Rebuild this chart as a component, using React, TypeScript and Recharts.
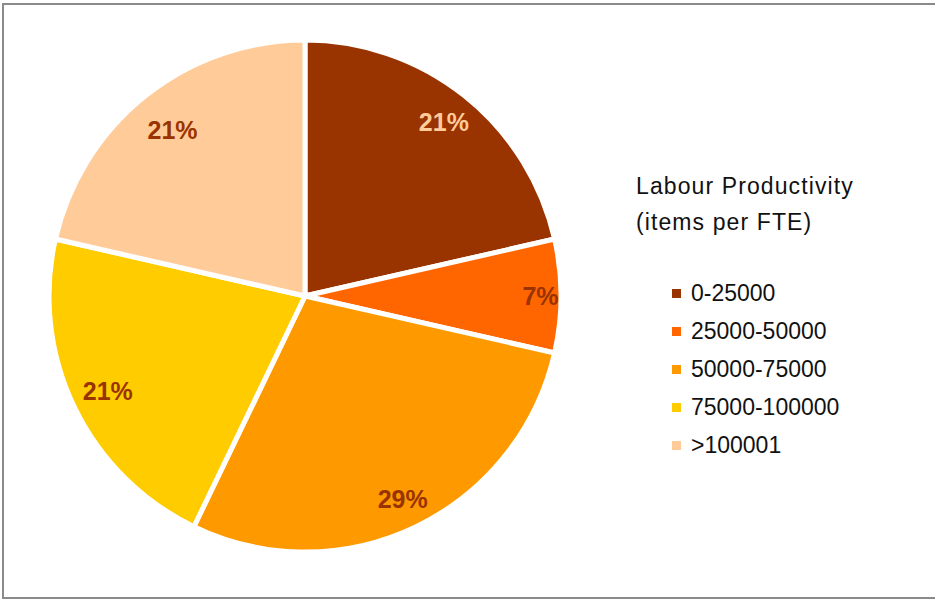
import { PieChart, Pie, Cell } from "recharts";

const categories = ["0-25000", "25000-50000", "50000-75000", "75000-100000", ">100001"];
const counts = [3, 1, 4, 3, 3];
const colors = ["#993300", "#FF6600", "#FF9900", "#FFCC00", "#FFCC99"];
const labelColors = ["#FFCC99", "#993300", "#993300", "#993300", "#993300"];
const legendTitle = ["Labour Productivity", "(items per FTE)"];

const data = categories.map((name, i) => ({ name, value: counts[i] }));
const total = counts.reduce((a, b) => a + b, 0);

const RAD = Math.PI / 180;
const font = "Liberation Sans, Arial, sans-serif";
// how far out each percentage sits, as a share of the radius
const labelRadius = [0.87, 0.92, 0.88, 0.855, 0.83];

const renderLabel = (props: any) => {
  const { cx, cy, midAngle, outerRadius, index, value } = props;
  const r = outerRadius * labelRadius[index];
  const x = cx + r * Math.cos(-midAngle * RAD);
  const y = cy + r * Math.sin(-midAngle * RAD);
  return (
    <text
      x={x}
      y={y}
      fill={labelColors[index]}
      textAnchor="middle"
      dominantBaseline="central"
      fontSize={25}
      fontWeight="bold"
      fontFamily={font}
    >
      {Math.round((value / total) * 100)}%
    </text>
  );
};

function LegendBox() {
  return (
    <div style={{ position: "absolute", left: 636, top: 168, fontFamily: font, color: "#111" }}>
      {legendTitle.map((t) => (
        <div key={t} style={{ fontSize: 23, lineHeight: "36px", letterSpacing: 1.1 }}>
          {t}
        </div>
      ))}
      <div style={{ height: 34 }} />
      {categories.map((c, i) => (
        <div
          key={c}
          style={{ display: "flex", alignItems: "center", fontSize: 23, height: 38, paddingLeft: 36 }}
        >
          <span
            style={{ width: 9, height: 9, background: colors[i], display: "inline-block", marginRight: 10 }}
          />
          {c}
        </div>
      ))}
    </div>
  );
}

export default function App() {
  return (
    <div style={{ position: "absolute", left: 0, top: 0, width: 935, height: 599, background: "#fff", overflow: "hidden" }}>
      <div
        style={{
          position: "absolute",
          left: 2,
          top: 3,
          width: 940,
          height: 592,
          borderTop: "2px solid #8a8a8a",
          borderLeft: "2px solid #8a8a8a",
          borderBottom: "2px solid #8a8a8a",
        }}
      />
      <PieChart
        width={935}
        height={599}
        margin={{ top: 0, right: 0, bottom: 0, left: 0 }}
        style={{ position: "absolute", left: 0, top: 0 }}
      >
        <Pie
          data={data}
          dataKey="value"
          cx={305}
          cy={296}
          outerRadius={256}
          startAngle={90}
          endAngle={-270}
          stroke="#fff"
          strokeWidth={5}
          label={renderLabel}
          labelLine={false}
          isAnimationActive={false}
        >
          {data.map((d, i) => (
            <Cell key={d.name} fill={colors[i]} />
          ))}
        </Pie>
      </PieChart>
      <LegendBox />
    </div>
  );
}
